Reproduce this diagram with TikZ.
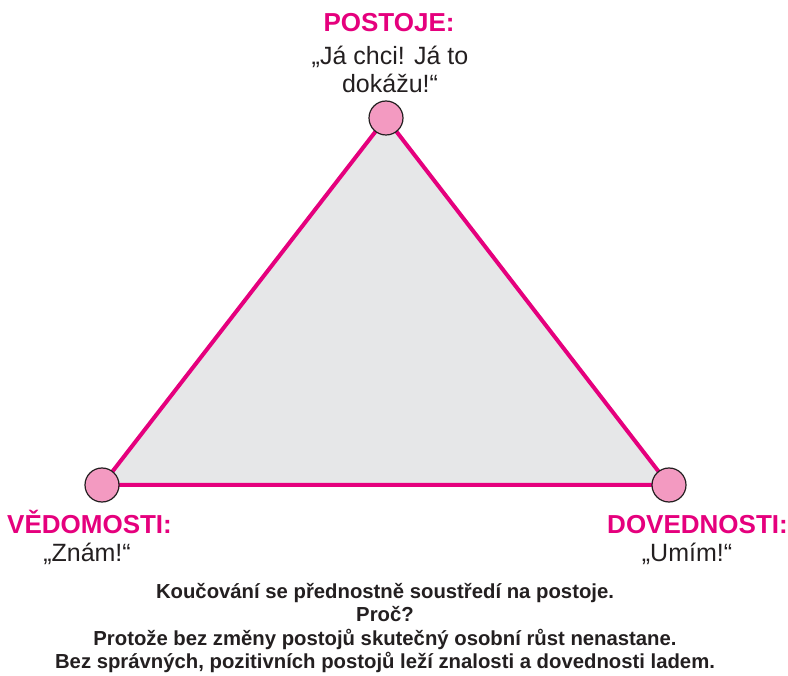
\documentclass[tikz,border=0pt]{standalone}
\usepackage{fontspec}
\setmainfont{Liberation Sans}
\definecolor{mag}{HTML}{E5007D}
\definecolor{pinkfill}{HTML}{F39AC1}
\definecolor{trifill}{HTML}{E6E7E8}
\definecolor{txt}{HTML}{231F20}
\tikzset{
  vertexdot/.style={circle, draw=txt, line width=1.2pt, fill=pinkfill, minimum size=34pt, inner sep=0pt},
  edge/.style={draw=mag, line width=4pt, line join=round},
  head/.style={text=mag, font=\fontsize{26}{29}\selectfont\bfseries, inner sep=0pt, anchor=base},
  quote/.style={text=txt, font=\fontsize{25}{28}\selectfont, inner sep=0pt, anchor=base},
  note/.style={text=txt, font=\fontsize{20.3}{23.5}\selectfont\bfseries, inner sep=0pt, anchor=base}
}
\begin{document}
\begin{tikzpicture}[x=1pt,y=-1pt]
\useasboundingbox (0,0) rectangle (788,676);
\coordinate (T) at (386,118);
\coordinate (L) at (102,485);
\coordinate (R) at (669,485);
% soft shadow
\foreach \i in {2,4,...,12}{
  \fill[black, opacity=0.035, shift={(\i pt,-\i pt)}] (T) -- (L) -- (R) -- cycle;
}
\fill[trifill] (T) -- (L) -- (R) -- cycle;
\draw[edge] (T) -- (L) -- (R) -- cycle;
\node[vertexdot] (t) at (T) {};
\node[vertexdot] (l) at (L) {};
\node[vertexdot] (r) at (R) {};
% labels
\node[head] (ph) at (389,32) {POSTOJE:};
\node[quote] (pq1) at (390,65) {„Já chci! Já to};
\node[quote] (pq2) at (390,93) {dokážu!“};
\node[head, anchor=base west] (vh) at (7,533) {VĚDOMOSTI:};
\node[quote] (vq) at (87,561) {„Znám!“};
\node[head, anchor=base east] (dh) at (788,533) {DOVEDNOSTI:};
\node[quote] (dq) at (687,561) {„Umím!“};
\node[note] (n1) at (385,598) {Koučování se přednostně soustředí na postoje.};
\node[note] (n2) at (385,621.5) {Proč?};
\node[note] (n3) at (385,645) {Protože bez změny postojů skutečný osobní růst nenastane.};
\node[note] (n4) at (385,668.5) {Bez správných, pozitivních postojů leží znalosti a dovednosti ladem.};
\end{tikzpicture}
\end{document}
